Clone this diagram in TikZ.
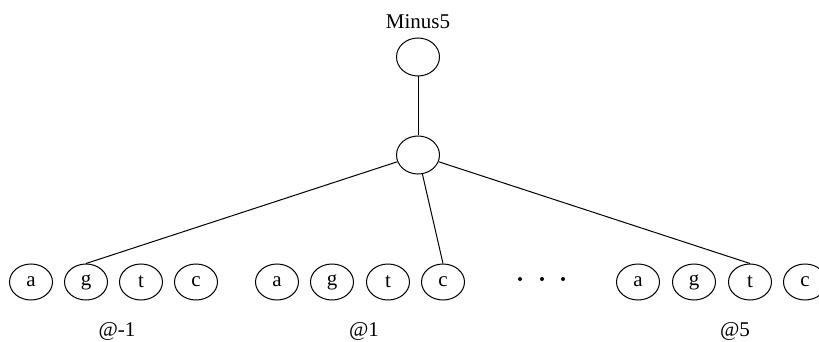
\documentclass[tikz,border=0pt]{standalone}
\usepackage{fontspec}
\setmainfont{Liberation Serif}
\usetikzlibrary{shapes.geometric}
\begin{document}
\begin{tikzpicture}[x=1pt,y=-1pt,
  circ/.style={draw,ellipse,minimum width=43pt,minimum height=36pt,inner sep=0pt,line width=1pt,font=\fontsize{21}{23}\selectfont},
  lbl/.style={font=\fontsize{21}{24}\selectfont},
  edge/.style={line width=1pt}]
\useasboundingbox (0,0) rectangle (819,342);
\node[lbl] (title) at (418,22) {Minus5};
\node[circ,minimum height=38pt] (top) at (418,57) {};
\node[circ,minimum height=38pt] (mid) at (418,155) {};
% group 1
\node[circ] (a1) at (31,282) {a};
\node[circ] (g1) at (86,282) {g};
\node[circ] (t1) at (141,282) {t};
\node[circ] (c1) at (196,282) {c};
% group 2
\node[circ] (a2) at (277,282) {a};
\node[circ] (g2) at (332,282) {g};
\node[circ] (t2) at (388,282) {t};
\node[circ] (c2) at (443,282) {c};
% group 3
\node[circ] (a3) at (638,282) {a};
\node[circ] (g3) at (694,282) {g};
\node[circ] (t3) at (750,282) {t};
\node[circ] (c3) at (805,282) {c};
% dots
\foreach \x/\n in {520/d1,542/d2,563/d3}
  \node[fill,circle,inner sep=0pt,minimum size=4pt] (\n) at (\x,279) {};
% labels
\node[lbl] (l1) at (117,331) {@-1};
\node[lbl] (l2) at (364,331) {@1};
\node[lbl] (l3) at (735,331) {@5};
% edges
\draw[edge] (top) -- (mid);
\draw[edge] (mid) -- (g1.north);
\draw[edge] (mid) -- (c2.north);
\draw[edge] (mid) -- (t3.north);
\end{tikzpicture}
\end{document}
